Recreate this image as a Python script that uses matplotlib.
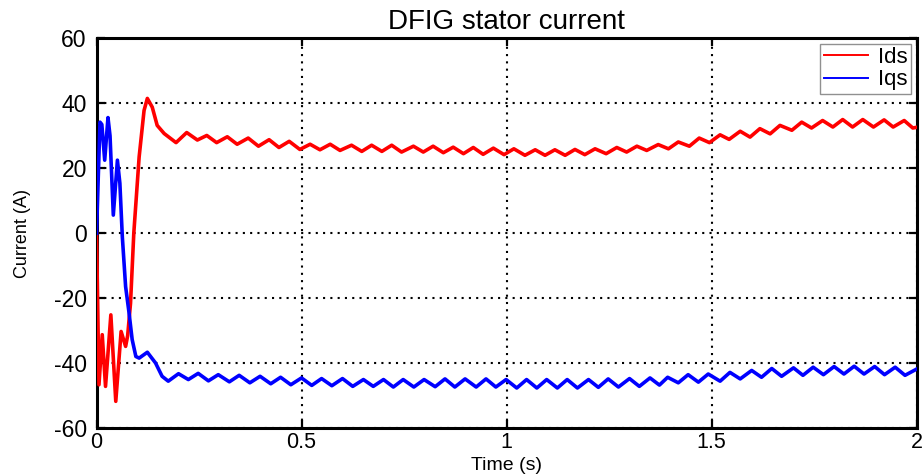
import matplotlib
matplotlib.use("Agg")
import matplotlib.pyplot as plt

# ---------------- data ----------------
t_ids = [0.000, 0.006, 0.014, 0.022, 0.035, 0.047, 0.060, 0.071, 0.076, 0.083,
         0.091, 0.104, 0.116, 0.124, 0.136, 0.148, 0.165,
         0.194, 0.220, 0.246, 0.269, 0.293, 0.319, 0.343, 0.370, 0.395, 0.421,
         0.445, 0.470, 0.496, 0.521, 0.545, 0.570, 0.594, 0.622, 0.647, 0.671,
         0.696, 0.720, 0.744, 0.773, 0.797, 0.821, 0.846, 0.870, 0.895, 0.919,
         0.943, 0.968, 0.994, 1.018, 1.045, 1.070, 1.094, 1.118, 1.143, 1.167,
         1.191, 1.216, 1.243, 1.269, 1.293, 1.318, 1.342, 1.370, 1.395, 1.419,
         1.446, 1.470, 1.495, 1.521, 1.543, 1.570, 1.594, 1.618, 1.643, 1.667,
         1.696, 1.720, 1.744, 1.771, 1.796, 1.820, 1.844, 1.869, 1.895, 1.921,
         1.943, 1.970, 1.991, 2.000]
ids = [0.0, -46.6, -31.2, -47.1, -25.1, -51.7, -30.2, -34.8, -31.5, -21.5,
       0.1, 23.5, 37.8, 41.5, 38.8, 33.2, 30.7,
       27.9, 31.0, 28.7, 30.1, 27.9, 29.7, 27.4, 29.3, 26.8, 28.8,
       26.4, 28.3, 25.8, 27.4, 25.7, 27.4, 25.5, 27.1, 25.2, 27.1,
       25.2, 27.1, 25.0, 26.8, 25.0, 26.8, 24.8, 26.5, 24.5, 26.4,
       24.3, 26.2, 24.2, 26.0, 24.0, 25.7, 24.0, 25.7, 24.0, 25.8,
       24.2, 26.0, 24.5, 26.4, 25.0, 26.8, 25.5, 27.3, 26.0, 28.1,
       26.8, 29.3, 27.9, 30.3, 28.9, 31.4, 29.6, 32.2, 30.6, 33.2,
       31.7, 34.2, 32.4, 34.7, 32.7, 35.0, 32.7, 35.0, 32.7, 34.9,
       32.7, 34.7, 32.4, 32.6]

t_iqs = [0.000, 0.0085, 0.013, 0.020, 0.028, 0.033, 0.041, 0.051, 0.057, 0.063,
         0.071, 0.079, 0.087, 0.096, 0.104, 0.124, 0.144, 0.160,
         0.175, 0.200, 0.224, 0.248, 0.273, 0.297, 0.324, 0.348, 0.374, 0.399,
         0.425, 0.449, 0.474, 0.500, 0.525, 0.549, 0.574, 0.600, 0.625, 0.651,
         0.675, 0.700, 0.724, 0.748, 0.774, 0.799, 0.826, 0.850, 0.874, 0.899,
         0.926, 0.950, 0.974, 0.999, 1.025, 1.049, 1.074, 1.098, 1.124, 1.148,
         1.173, 1.200, 1.224, 1.248, 1.273, 1.300, 1.324, 1.350, 1.373, 1.393,
         1.419, 1.443, 1.468, 1.492, 1.521, 1.545, 1.570, 1.598, 1.622, 1.647,
         1.671, 1.700, 1.723, 1.748, 1.773, 1.799, 1.823, 1.848, 1.872, 1.898,
         1.922, 1.948, 1.972, 2.000]
iqs = [0.0, 34.2, 33.5, 22.5, 35.6, 30.0, 5.6, 22.5, 15.4, -1.1,
       -16.4, -24.1, -32.7, -37.9, -38.4, -36.6, -39.9, -44.0,
       -45.5, -43.2, -45.0, -43.1, -45.4, -43.5, -45.7, -43.7, -46.0, -44.0,
       -46.3, -44.3, -46.6, -44.5, -46.8, -44.7, -46.9, -44.7, -47.1, -45.0,
       -47.1, -45.0, -47.3, -45.0, -47.3, -45.0, -47.2, -44.8, -47.3, -44.8,
       -47.3, -44.8, -47.3, -45.0, -47.6, -45.0, -47.6, -45.0, -47.6, -45.0,
       -47.6, -45.0, -47.4, -44.8, -47.3, -44.7, -47.1, -44.5, -46.7, -44.3,
       -46.0, -43.5, -45.8, -43.3, -45.5, -42.8, -44.8, -42.2, -44.3, -41.6,
       -44.0, -41.4, -43.7, -41.2, -43.5, -41.0, -43.3, -40.9, -43.3, -41.0,
       -43.5, -41.2, -43.7, -41.8]

x_ticks = [0, 0.5, 1, 1.5, 2]
x_tick_labels = ["0", "0.5", "1", "1.5", "2"]
y_ticks = [-60, -40, -20, 0, 20, 40, 60]
y_tick_labels = ["-60", "-40", "-20", "0", "20", "40", "60"]
series_labels = ["Ids", "Iqs"]
title = "DFIG stator current"
xlabel = "Time (s)"
ylabel = "Current (A)"

# ---------------- figure ----------------
plt.rcParams['font.family'] = ['Liberation Sans', 'DejaVu Sans']
plt.rcParams['axes.unicode_minus'] = False

fig = plt.figure(figsize=(9.24, 4.75), dpi=100)
ax_h = (428.3 - 38.3) / 475
ax = fig.add_axes([96.5 / 924, 1 - 428.3 / 475, (916.5 - 96.5) / 924, ax_h])

ax.plot(t_ids, ids, color='#ff0000', lw=2.6, solid_joinstyle='round', label=series_labels[0], zorder=3)
ax.plot(t_iqs, iqs, color='#0000ff', lw=2.6, solid_joinstyle='round', label=series_labels[1], zorder=3)

ax.set_xlim(0, 2)
ax.set_ylim(-60, 60)
ax.set_xticks(x_ticks)
ax.set_xticklabels(x_tick_labels)
ax.set_yticks(y_ticks)
ax.set_yticklabels(y_tick_labels)

ax.grid(True, color='black', linestyle=(0, (1, 2.5)), linewidth=1.5, zorder=1)
ax.set_axisbelow(True)

for s in ax.spines.values():
    s.set_linewidth(2.2)
    s.set_color('black')

ax.tick_params(direction='in', length=6, width=1.6, top=True, right=True, colors='black')
ax.tick_params(axis='y', pad=7, labelsize=16.5)
ax.tick_params(axis='x', pad=3, labelsize=15.5)

ax.set_title(title, fontsize=20, pad=7)
ax.set_xlabel(xlabel, fontsize=14)
# place the x label so that it sits just inside the bottom edge of the figure
ax.xaxis.label.set_verticalalignment('bottom')
ax.xaxis.set_label_coords(0.5, -(474.5 - 428.3) / (ax_h * 475))
ax.set_ylabel(ylabel, fontsize=13, labelpad=16)

leg = ax.legend(loc='upper right', fontsize=16, fancybox=False, framealpha=1,
                edgecolor='#909090', handlelength=2.0, handletextpad=0.45,
                borderpad=0.15, labelspacing=0.05, borderaxespad=0.25)
leg.get_frame().set_linewidth(1.0)
for h in leg.get_lines():
    h.set_linewidth(1.4)

fig.savefig('out.png', dpi=100)
